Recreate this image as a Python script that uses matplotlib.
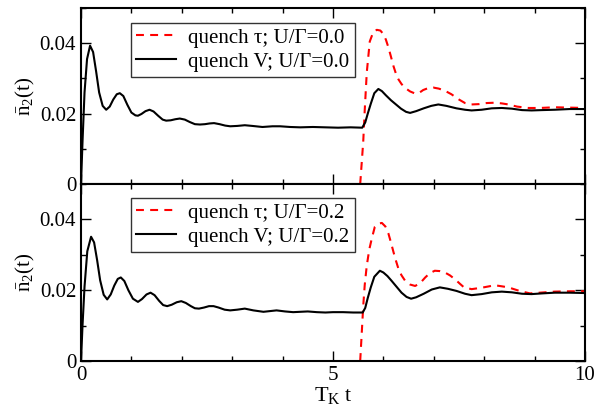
import numpy as np
import matplotlib
matplotlib.use("Agg")
import matplotlib.pyplot as plt
from matplotlib.ticker import MultipleLocator, FixedLocator, FixedFormatter

plt.rcParams["font.family"] = ["Liberation Serif", "DejaVu Serif"]
plt.rcParams["mathtext.fontset"] = "custom"
plt.rcParams["mathtext.rm"] = "Liberation Serif"
plt.rcParams["mathtext.it"] = "Liberation Serif:italic"

# top panel, U/Gamma = 0.0
t_v0 = [0.0, 0.03, 0.07, 0.12, 0.18, 0.24, 0.30, 0.36, 0.43, 0.50, 0.57, 0.64, 0.71,
        0.77, 0.84, 0.92, 1.00, 1.08, 1.13, 1.20, 1.28, 1.36, 1.44, 1.53, 1.62, 1.69,
        1.78, 1.87, 1.96, 2.06, 2.16, 2.26, 2.36, 2.46, 2.55, 2.64, 2.75, 2.86, 2.96,
        3.10, 3.25, 3.40, 3.60, 3.80, 3.95, 4.15, 4.35, 4.60, 4.85, 5.10, 5.35, 5.58,
        5.64, 5.69, 5.75, 5.82, 5.90, 5.97, 6.05, 6.15, 6.25, 6.35, 6.45, 6.53, 6.65,
        6.80, 6.95, 7.09, 7.25, 7.45, 7.62, 7.75, 7.95, 8.15, 8.35, 8.55, 8.75, 8.94,
        9.15, 9.40, 9.70, 10.0]
n_v0 = [0.0, 0.012, 0.026, 0.0355, 0.0393, 0.0375, 0.032, 0.026, 0.0222, 0.0211, 0.0220,
        0.0240, 0.0255, 0.0258, 0.0250, 0.0225, 0.0203, 0.0195, 0.0194, 0.0199, 0.0207,
        0.0211, 0.0206, 0.0194, 0.0183, 0.0180, 0.0181, 0.0184, 0.0186, 0.0183, 0.0176,
        0.0170, 0.0169, 0.0170, 0.0172, 0.0173, 0.0170, 0.0166, 0.0164, 0.0165, 0.0167,
        0.0165, 0.0162, 0.0164, 0.0164, 0.0162, 0.0161, 0.0162, 0.0161, 0.0160, 0.0161,
        0.0160, 0.0175, 0.0200, 0.0228, 0.0258, 0.0270, 0.0264, 0.0252, 0.0238, 0.0226,
        0.0214, 0.0205, 0.0202, 0.0207, 0.0215, 0.0222, 0.0226, 0.0222, 0.0215, 0.0211,
        0.0209, 0.0211, 0.0215, 0.0216, 0.0214, 0.0210, 0.0209, 0.0210, 0.0211, 0.0213,
        0.0213]

t_tau0 = [5.54, 5.60, 5.63, 5.67, 5.73, 5.80, 5.87, 5.94, 6.00, 6.05, 6.10, 6.15, 6.20,
          6.25, 6.30, 6.36, 6.43, 6.53, 6.63, 6.72, 6.79, 6.88, 6.99, 7.10, 7.22, 7.35,
          7.50, 7.62, 7.75, 7.90, 8.05, 8.21, 8.35, 8.48, 8.65, 8.88, 9.10, 9.40, 9.70,
          10.0]
n_tau0 = [0.0, 0.012, 0.021, 0.0316, 0.0405, 0.0432, 0.0438, 0.0436, 0.0426, 0.0410,
          0.0388, 0.0362, 0.0335, 0.0313, 0.0297, 0.0284, 0.0273, 0.0263, 0.0257, 0.0260,
          0.0267, 0.0272, 0.0274, 0.0271, 0.0265, 0.0255, 0.0240, 0.0230, 0.0226, 0.0227,
          0.0230, 0.0231, 0.0229, 0.0226, 0.0220, 0.0216, 0.0216, 0.0218, 0.0217, 0.0216]

# bottom panel, U/Gamma = 0.2
t_v2 = [0.0, 0.03, 0.07, 0.125, 0.20, 0.26, 0.32, 0.38, 0.45, 0.52, 0.59, 0.66, 0.73,
        0.79, 0.86, 0.94, 1.03, 1.13, 1.21, 1.30, 1.38, 1.46, 1.55, 1.63, 1.71, 1.80,
        1.90, 1.99, 2.08, 2.18, 2.26, 2.34, 2.44, 2.54, 2.63, 2.73, 2.85, 2.96, 3.10,
        3.25, 3.42, 3.62, 3.75, 3.88, 4.05, 4.21, 4.35, 4.50, 4.68, 4.85, 5.00, 5.20,
        5.40, 5.59, 5.64, 5.69, 5.75, 5.82, 5.93, 6.00, 6.08, 6.16, 6.26, 6.36, 6.46,
        6.55, 6.65, 6.80, 6.96, 7.12, 7.28, 7.45, 7.62, 7.75, 7.95, 8.15, 8.35, 8.55,
        8.75, 8.94, 9.15, 9.40, 9.70, 10.0]
n_v2 = [0.0, 0.010, 0.021, 0.0310, 0.0351, 0.0335, 0.0285, 0.0228, 0.0187, 0.0174,
        0.0188, 0.0213, 0.0232, 0.0236, 0.0226, 0.0200, 0.0176, 0.0167, 0.0175, 0.0188,
        0.0193, 0.0186, 0.0170, 0.0158, 0.0155, 0.0159, 0.0166, 0.0169, 0.0164, 0.0155,
        0.0149, 0.0148, 0.0151, 0.0155, 0.0155, 0.0151, 0.0145, 0.0143, 0.0145, 0.0148,
        0.0143, 0.0139, 0.0141, 0.0143, 0.0140, 0.0138, 0.0139, 0.0140, 0.0138, 0.0137,
        0.0138, 0.0138, 0.0137, 0.0137, 0.0150, 0.0178, 0.0208, 0.0238, 0.0255, 0.0250,
        0.0240, 0.0227, 0.0210, 0.0193, 0.0181, 0.0176, 0.0180, 0.0190, 0.0202, 0.0208,
        0.0204, 0.0198, 0.0190, 0.0186, 0.0189, 0.0194, 0.0196, 0.0194, 0.0190, 0.0189,
        0.0191, 0.0193, 0.0193, 0.0192]

t_tau2 = [5.54, 5.60, 5.63, 5.67, 5.72, 5.77, 5.83, 5.90, 5.97, 6.04, 6.10, 6.15, 6.20,
          6.25, 6.30, 6.36, 6.43, 6.53, 6.63, 6.73, 6.83, 6.92, 7.02, 7.12, 7.22, 7.32,
          7.42, 7.52, 7.60, 7.75, 7.95, 8.21, 8.35, 8.48, 8.70, 8.91, 9.10, 9.40, 9.70,
          10.0]
n_tau2 = [0.0, 0.0155, 0.0215, 0.0269, 0.0315, 0.0346, 0.0379, 0.0388, 0.0390, 0.0380,
          0.0360, 0.0335, 0.0308, 0.0283, 0.0260, 0.0242, 0.0227, 0.0216, 0.0212, 0.0220,
          0.0236, 0.0248, 0.0255, 0.0254, 0.0250, 0.0242, 0.0231, 0.0218, 0.0208, 0.0203,
          0.0207, 0.0214, 0.0211, 0.0208, 0.0198, 0.0191, 0.0193, 0.0196, 0.0197, 0.0197]

y_ticks = [0, 0.02, 0.04]
y_labels = ["0", "0.02", "0.04"]
x_ticks = [0, 5, 10]
x_labels = ["0", "5", "10"]

fig = plt.figure(figsize=(5.96, 4.07), dpi=100)
ax1 = fig.add_axes([0.1359, 0.5479, 0.8456, 0.4324])
ax2 = fig.add_axes([0.1359, 0.1130, 0.8456, 0.4349])

panels = [(ax1, t_tau0, n_tau0, t_v0, n_v0, "0.0", 0.915),
          (ax2, t_tau2, n_tau2, t_v2, n_v2, "0.2", 0.921)]

for ax, tt, nt, tv, nv, u, ytop in panels:
    line_tau, = ax.plot(tt, nt, color="red", lw=1.5, label="quench τ; U/Γ=" + u)
    line_tau.set_dashes([3.8, 3.0])
    ax.plot(tv, nv, color="black", lw=1.5, label="quench V; U/Γ=" + u)
    ax.set_xlim(0, 10)
    ax.set_ylim(0, 0.05)
    ax.xaxis.set_major_locator(FixedLocator(x_ticks))
    ax.xaxis.set_minor_locator(MultipleLocator(1))
    ax.yaxis.set_major_locator(FixedLocator(y_ticks))
    ax.yaxis.set_major_formatter(FixedFormatter(y_labels))
    ax.yaxis.set_minor_locator(MultipleLocator(0.01))
    ax.tick_params(which="both", direction="in", top=True, right=True,
                   width=1.0, labelsize=15)
    ax.tick_params(which="major", length=7)
    ax.tick_params(which="minor", length=3.5)
    for s in ax.spines.values():
        s.set_linewidth(1.5)
    ax.set_ylabel(r"$\bar{\mathrm{n}}_2\mathrm{(t)}$", fontsize=15, labelpad=2)
    leg = ax.legend(loc="upper left", bbox_to_anchor=(0.099, ytop), fontsize=15,
                    frameon=True, fancybox=False, edgecolor="black",
                    handlelength=1.9, handletextpad=0.6, borderpad=0.25,
                    labelspacing=0.2, borderaxespad=0)
    leg.get_frame().set_linewidth(1.0)

ax1.tick_params(labelbottom=False)
ax2.xaxis.set_major_formatter(FixedFormatter(x_labels))
ax2.set_xlabel(r"$\mathrm{T_K\ t}$", fontsize=16, labelpad=0)

fig.savefig("out.png", dpi=100)
